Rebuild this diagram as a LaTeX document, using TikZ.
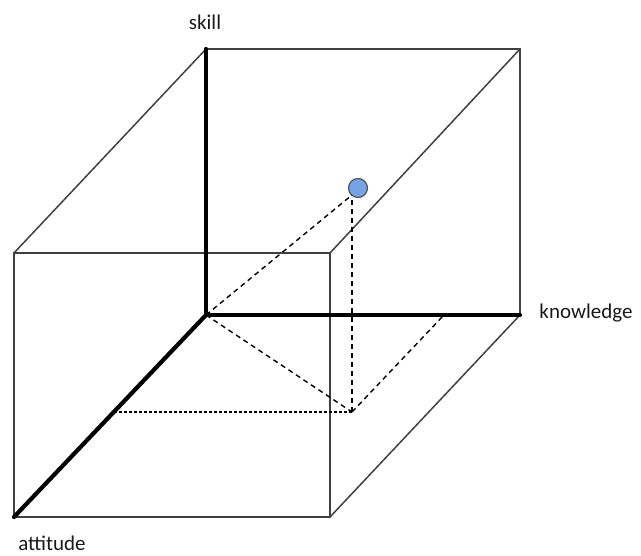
\documentclass[tikz,border=0pt]{standalone}
\usepackage{fontspec}
\setmainfont{Carlito}
\begin{document}
\begin{tikzpicture}[x=1pt,y=-1pt,
  edge/.style={draw=black!75,line width=1.5pt},
  axis/.style={draw=black,line width=4.2pt,line cap=round},
  guide/.style={draw=black,line width=1.4pt,dash pattern=on 5pt off 4pt},
  fineguide/.style={draw=black,line width=1.3pt,dash pattern=on 3pt off 2pt},
  ball/.style={circle,draw=black!70,line width=1.1pt,fill={rgb,255:red,118;green,163;blue,228},minimum size=19pt,inner sep=0pt},
  lbl/.style={font=\fontsize{21}{23}\selectfont,text=black!90}]
\useasboundingbox (0,0) rectangle (641,556);
% back face corners
\coordinate (O) at (206,315);
\coordinate (BT) at (206,49);
\coordinate (BTR) at (520,49);
\coordinate (BR) at (520,315);
% front face corners
\coordinate (FTL) at (14,253);
\coordinate (FTR) at (330,253);
\coordinate (FBR) at (330,517);
\coordinate (FBL) at (14,517);
% point and projections
\coordinate (F) at (352,412);
\coordinate (KA) at (444,315);
\coordinate (AA) at (114,412);
\coordinate (PB) at (352,195);
% cube edges
\draw[edge] (BT) -- (BTR) -- (BR);
\draw[edge] (FTL) -- (FTR) -- (FBR) -- (FBL) -- cycle;
\draw[edge] (FTL) -- (BT);
\draw[edge] (FTR) -- (BTR);
\draw[edge] (FBR) -- (BR);
% guides
\draw[guide] (O) -- (PB);
\draw[guide] (O) -- (F);
\draw[guide] (F) -- (PB);
\draw[guide] (F) -- (KA);
\draw[fineguide] (F) -- (AA);
% axes
\draw[axis] (O) -- (BT);
\draw[axis] (O) -- (BR);
\draw[axis] (O) -- (FBL);
% point
\node[ball] (P) at (358,188) {};
% labels
\node[lbl] (skill) at (205,22) {skill};
\node[lbl] (knowledge) at (586,313) {knowledge};
\node[lbl] (attitude) at (52,543) {attitude};
\end{tikzpicture}
\end{document}
